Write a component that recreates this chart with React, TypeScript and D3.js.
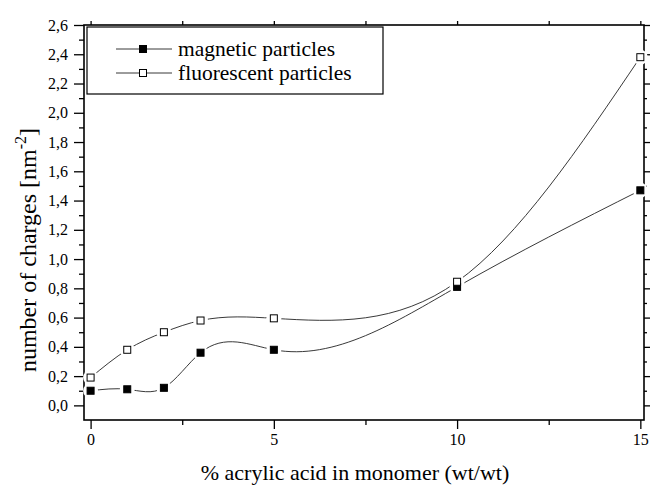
import React, { useEffect, useRef } from 'react';
import * as d3 from 'd3';

// acrylic acid content (wt/wt %)
const acrylic = [0, 1, 2, 3, 5, 10, 15];
const magnetic = [0.1, 0.11, 0.12, 0.36, 0.38, 0.81, 1.47];
const fluorescent = [0.19, 0.38, 0.5, 0.58, 0.595, 0.845, 2.38];
const seriesNames = ['magnetic particles', 'fluorescent particles'];
const xMajor = [0, 5, 10, 15];
const xMinor = [2.5, 7.5, 12.5];
const yMajor = d3.range(0, 2.61, 0.2);
const yMinor = d3.range(0.1, 2.6, 0.2);

const FONT = "'Liberation Serif', 'Times New Roman', Times, 'DejaVu Serif', serif";

// natural cubic spline y(x), drawn as bezier segments (like Origin's spline connector)
class NaturalX {
  _context: any;
  _x: number[] = [];
  _y: number[] = [];
  constructor(context: any) { this._context = context; }
  areaStart() {}
  areaEnd() {}
  lineStart() { this._x = []; this._y = []; }
  point(x: number, y: number) { this._x.push(+x); this._y.push(+y); }
  lineEnd() {
    const xs = this._x, ys = this._y, n = xs.length, ctx = this._context;
    if (!n) return;
    ctx.moveTo(xs[0], ys[0]);
    if (n < 3) { if (n === 2) ctx.lineTo(xs[1], ys[1]); return; }
    const h = d3.range(n - 1).map(i => xs[i + 1] - xs[i]);
    const M = new Array(n).fill(0);
    const cp: number[] = [], dp: number[] = [];
    for (let i = 1; i < n - 1; i++) {
      const a = h[i - 1], b = 2 * (h[i - 1] + h[i]), c = h[i];
      const r = 6 * ((ys[i + 1] - ys[i]) / h[i] - (ys[i] - ys[i - 1]) / h[i - 1]);
      const prevC = i > 1 ? cp[i - 1] : 0, prevD = i > 1 ? dp[i - 1] : 0;
      const den = b - a * prevC;
      cp[i] = c / den;
      dp[i] = (r - a * prevD) / den;
    }
    for (let i = n - 2; i >= 1; i--) M[i] = dp[i] - cp[i] * M[i + 1];
    for (let i = 0; i < n - 1; i++) {
      const s = (ys[i + 1] - ys[i]) / h[i];
      const m0 = s - h[i] * (2 * M[i] + M[i + 1]) / 6;
      const m1 = s + h[i] * (M[i] + 2 * M[i + 1]) / 6;
      ctx.bezierCurveTo(
        xs[i] + h[i] / 3, ys[i] + m0 * h[i] / 3,
        xs[i + 1] - h[i] / 3, ys[i + 1] - m1 * h[i] / 3,
        xs[i + 1], ys[i + 1]
      );
    }
  }
}
const curveNaturalX = (context: any) => new NaturalX(context);

const App = () => {
  const ref = useRef<SVGSVGElement>(null);

  useEffect(() => {
    const width = 650;
    const height = 486;
    const left = 84, right = 644, top = 25, bottom = 420;

    const x = d3.scaleLinear().domain([-0.18, 15.1]).range([left, right]);
    const y = d3.scaleLinear().domain([-0.1, 2.6]).range([bottom, top]);

    const svg = d3.select(ref.current);
    svg.selectAll('*').remove();
    svg.attr('width', width).attr('height', height).attr('viewBox', [0, 0, width, height]);

    const fmt = (d: number) => d3.format('.1f')(d).replace('.', ',');

    // bottom axis
    svg.append('g')
      .attr('transform', `translate(0,${bottom})`)
      .call(d3.axisBottom(x).tickValues(xMajor).tickSize(9).tickPadding(5).tickFormat(d3.format('d')))
      .call(g => g.select('.domain').remove())
      .call(g => g.selectAll('.tick text').attr('font-size', 16).attr('font-family', FONT));
    svg.append('g')
      .attr('transform', `translate(0,${bottom})`)
      .call(d3.axisBottom(x).tickValues(xMinor).tickSize(5).tickFormat(() => ''))
      .call(g => g.select('.domain').remove());

    // left axis
    svg.append('g')
      .attr('transform', `translate(${left},0)`)
      .call(d3.axisLeft(y).tickValues(yMajor).tickSize(10).tickPadding(6).tickFormat(d => fmt(+d)))
      .call(g => g.select('.domain').remove())
      .call(g => g.selectAll('.tick text').attr('font-size', 16).attr('font-family', FONT));
    svg.append('g')
      .attr('transform', `translate(${left},0)`)
      .call(d3.axisLeft(y).tickValues(yMinor).tickSize(5).tickFormat(() => ''))
      .call(g => g.select('.domain').remove());

    // top + right mirror ticks
    svg.append('g')
      .attr('transform', `translate(0,${top})`)
      .call(d3.axisTop(x).tickValues([...xMajor, ...xMinor]).tickSize(4).tickFormat(() => ''))
      .call(g => g.select('.domain').remove());
    svg.append('g')
      .attr('transform', `translate(${right},0)`)
      .call(d3.axisRight(y).tickValues(yMajor).tickSize(6).tickFormat(() => ''))
      .call(g => g.select('.domain').remove());
    svg.append('g')
      .attr('transform', `translate(${right},0)`)
      .call(d3.axisRight(y).tickValues(yMinor).tickSize(3).tickFormat(() => ''))
      .call(g => g.select('.domain').remove());

    svg.selectAll('.tick line').attr('stroke-width', 1.3);

    // frame
    svg.append('rect')
      .attr('x', left).attr('y', top)
      .attr('width', right - left).attr('height', bottom - top)
      .attr('fill', 'none').attr('stroke', '#000').attr('stroke-width', 1.6);

    const series = [magnetic, fluorescent].map((vals, i) => ({
      name: seriesNames[i],
      filled: i === 0,
      points: vals.map((v, j) => [acrylic[j], v] as [number, number])
    }));

    const line = d3.line<[number, number]>()
      .x(d => x(d[0]))
      .y(d => y(d[1]))
      .curve(curveNaturalX as any);

    const plot = svg.append('g');
    for (const s of series) {
      plot.append('path')
        .attr('d', line(s.points))
        .attr('fill', 'none')
        .attr('stroke', '#222')
        .attr('stroke-width', 0.9);
    }
    // gaps around symbols
    for (const s of series) {
      plot.selectAll(null)
        .data(s.points)
        .join('circle')
        .attr('cx', d => x(d[0]))
        .attr('cy', d => y(d[1]))
        .attr('r', 7.5)
        .attr('fill', '#fff');
    }
    for (const s of series) {
      plot.selectAll(null)
        .data(s.points)
        .join('rect')
        .attr('x', d => x(d[0]) - 3.5)
        .attr('y', d => y(d[1]) - 3.5)
        .attr('width', 7)
        .attr('height', 7)
        .attr('fill', s.filled ? '#000' : '#fff')
        .attr('stroke', '#000')
        .attr('stroke-width', 1);
    }

    // legend
    const lg = svg.append('g');
    lg.append('rect')
      .attr('x', 87).attr('y', 27).attr('width', 296).attr('height', 67)
      .attr('fill', '#fff').attr('stroke', '#000').attr('stroke-width', 1.2);
    series.forEach((s, i) => {
      const cy = 49 + i * 24;
      lg.append('line')
        .attr('x1', 116).attr('x2', 172).attr('y1', cy).attr('y2', cy)
        .attr('stroke', '#222').attr('stroke-width', 0.9);
      lg.append('rect')
        .attr('x', 143 - 3.5).attr('y', cy - 3.5).attr('width', 7).attr('height', 7)
        .attr('fill', s.filled ? '#000' : '#fff').attr('stroke', '#000');
      lg.append('text')
        .attr('x', 178).attr('y', cy + 7)
        .attr('font-family', FONT).attr('font-size', 21.5)
        .text(s.name);
    });

    // axis titles
    svg.append('text')
      .attr('x', 355).attr('y', 480)
      .attr('text-anchor', 'middle')
      .attr('font-family', FONT).attr('font-size', 22)
      .text('% acrylic acid in monomer (wt/wt)');

    const yt = svg.append('text')
      .attr('transform', `translate(36,250) rotate(-90)`)
      .attr('text-anchor', 'middle')
      .attr('font-family', FONT).attr('font-size', 24);
    yt.append('tspan').text('number of charges [nm');
    yt.append('tspan').attr('dy', -10).attr('font-size', 16).text('-2');
    yt.append('tspan').attr('dy', 10).text(']');
  }, []);

  return <svg ref={ref} style={{ position: 'absolute', left: 0, top: 0 }} />;
};

export default App;
